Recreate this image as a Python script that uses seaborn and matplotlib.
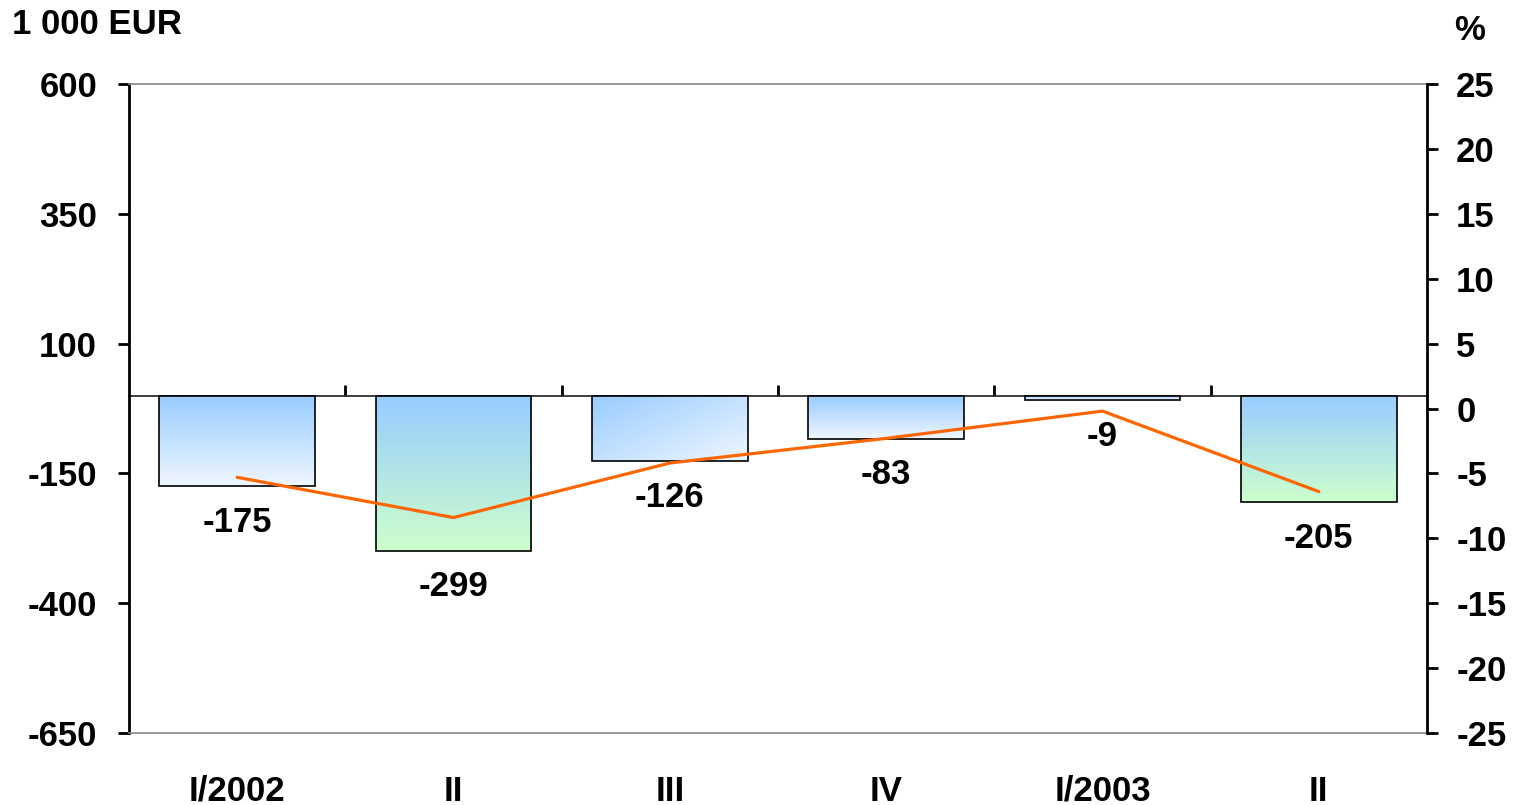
import numpy as np
import pandas as pd
import matplotlib
matplotlib.use("Agg")
import matplotlib.pyplot as plt
import seaborn as sns
from matplotlib.colors import LinearSegmentedColormap

# data
quarters = ["I/2002", "II", "III", "IV", "I/2003", "II"]
balance = [-175, -299, -126, -83, -9, -205]          # 1 000 EUR (bars)
pct_change = [-5.3, -8.4, -4.2, -2.3, -0.2, -6.4]    # % (line)

sns.set_theme(style="white")
plt.rcParams["font.family"] = ["Liberation Sans", "DejaVu Sans"]
plt.rcParams["font.weight"] = "bold"
plt.rcParams["text.color"] = "black"
plt.rcParams["xtick.color"] = "black"
plt.rcParams["ytick.color"] = "black"
plt.rcParams["axes.unicode_minus"] = False

FS = 25

fig = plt.figure(figsize=(15.26, 8.05), dpi=100)
ax = fig.add_axes([129 / 1526, 1 - 733 / 805, (1427 - 129) / 1526, (733 - 84) / 805])

df = pd.DataFrame({"q": range(len(quarters)), "v": balance})
sns.barplot(data=df, x="q", y="v", ax=ax, width=0.72, color="white",
            edgecolor="black", linewidth=1.2, zorder=2)

# gradient fills (blue->white, blue->green)
blue_white = LinearSegmentedColormap.from_list("bw", ["#99CCFF", "#EEF6FF"])
blue_green = LinearSegmentedColormap.from_list("bg", ["#99CCFF", "#CCFFCC"])
styles = ["bw", "bg", "diag", "bw", "bw", "bg"]
for patch, st in zip(ax.patches, styles):
    x0, y0 = patch.get_x(), patch.get_y()
    w, h = patch.get_width(), patch.get_height()
    ytop, ybot = max(y0, y0 + h), min(y0, y0 + h)
    if st == "diag":
        gx, gy = np.meshgrid(np.linspace(0, 1, 64), np.linspace(0, 1, 64))
        grad = (gx + gy) / 2
        cmap = blue_white
    else:
        grad = np.linspace(0, 1, 64).reshape(-1, 1)
        cmap = blue_white if st == "bw" else blue_green
    im = ax.imshow(grad, extent=[x0, x0 + w, ybot, ytop], origin="upper",
                   cmap=cmap, aspect="auto", zorder=2.5)
    im.set_clip_path(patch)
    patch.set_facecolor("none")
    patch.set_zorder(3)

for i, v in enumerate(balance):
    ax.annotate(f"{v}", (i, v), xytext=(0, -26), textcoords="offset points",
                ha="center", va="center", fontsize=FS, fontweight="bold")

ax.set_xlim(-0.5, len(quarters) - 0.5)
ax.set_ylim(-650, 600)
ax.set_yticks([600, 350, 100, -150, -400, -650])
ax.set_xticks(range(len(quarters)))
ax.set_xticklabels(quarters, fontsize=FS, fontweight="bold")
ax.set_xlabel("")
ax.set_ylabel("")
ax.tick_params(axis="x", length=0, pad=30)
ax.tick_params(axis="y", direction="out", length=8, width=2, color="black",
               labelsize=FS, pad=15, left=True)
for lab in ax.get_yticklabels():
    lab.set_fontweight("bold")

for s in ["top", "bottom"]:
    ax.spines[s].set_color("#888888")
    ax.spines[s].set_linewidth(1.2)
ax.spines["left"].set_color("black")
ax.spines["left"].set_linewidth(2)
ax.spines["right"].set_visible(False)

# zero line with category-boundary ticks
sec = ax.secondary_xaxis(650 / 1250)
sec.set_xticks(np.arange(0.5, len(quarters) - 0.5, 1.0))
sec.set_xticklabels([])
sec.tick_params(direction="out", length=8, width=2, color="black")
sec.spines["bottom"].set_color("black")
sec.spines["bottom"].set_linewidth(2)
sec.spines["bottom"].set_zorder(4)

# percentage line on right axis
ax2 = ax.twinx()
sns.lineplot(x=list(range(len(quarters))), y=pct_change, ax=ax2,
             color="#FF6600", linewidth=2.3, zorder=5)
ax2.set_ylim(-25, 25)
ax2.set_yticks(range(25, -30, -5))
ax2.tick_params(axis="y", direction="out", length=8, width=2, color="black",
                labelsize=FS, pad=13, right=True)
for lab in ax2.get_yticklabels():
    lab.set_fontweight("bold")
for s in ["top", "bottom", "left"]:
    ax2.spines[s].set_visible(False)
ax2.spines["right"].set_color("black")
ax2.spines["right"].set_linewidth(2)
ax2.set_ylabel("")

fig.text(12 / 1526, 1 - 25 / 805, "1 000 EUR", ha="left", va="center",
         fontsize=FS, fontweight="bold")
fig.text(1470 / 1526, 1 - 30 / 805, "%", ha="center", va="center",
         fontsize=FS, fontweight="bold")

fig.savefig("out.png", dpi=100)
